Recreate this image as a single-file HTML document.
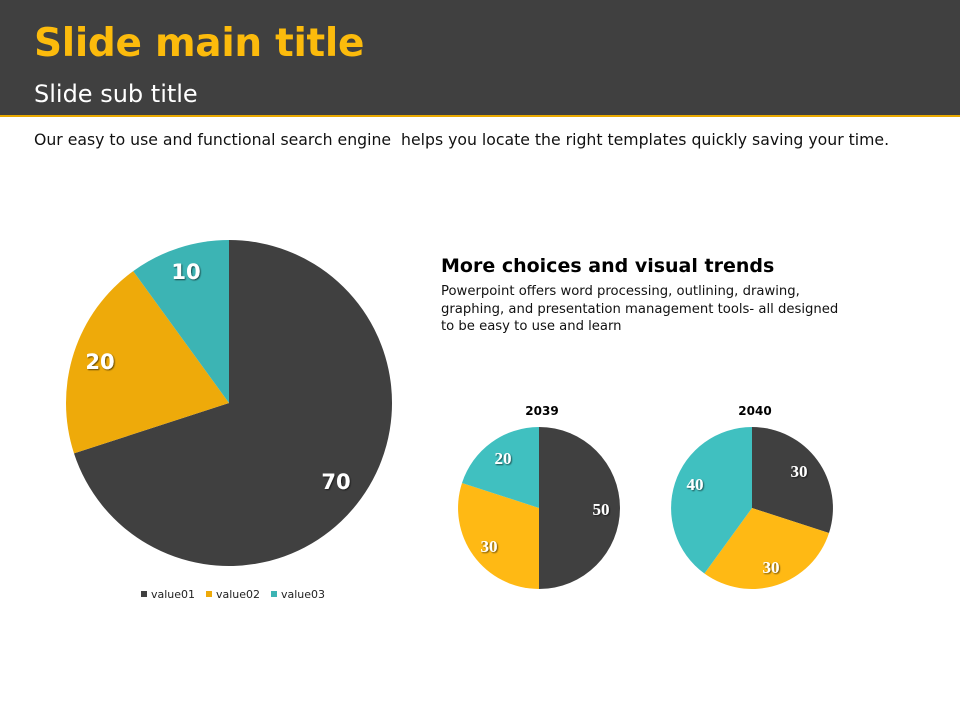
<!DOCTYPE html>
<html><head><meta charset="utf-8"><style>
body{margin:0;width:960px;height:720px;background:#fff;position:relative;overflow:hidden;font-family:"DejaVu Sans","Liberation Sans",sans-serif}
.hdr{position:absolute;left:0;top:0;width:960px;height:115px;background:#404040;border-bottom:2px solid #e8a800}
.t{position:absolute;left:34px;top:21px;font-size:39px;font-weight:bold;color:#fcbb0c;letter-spacing:-0.3px}
.st{position:absolute;left:34px;top:80px;font-size:24px;color:#fff}
.d{position:absolute;left:34px;top:130px;font-size:15.7px;color:#111;white-space:nowrap}
.h2{position:absolute;left:441px;top:255px;font-size:19px;font-weight:bold;color:#000}
.p{position:absolute;left:441px;top:283px;font-size:13.2px;line-height:17.5px;color:#111;width:420px}
</style></head><body>
<div class="hdr"></div>
<div class="t">Slide main title</div>
<div class="st">Slide sub title</div>
<div class="d">Our easy to use and functional search engine&nbsp; helps you locate the right templates quickly saving your time.</div>
<div class="h2">More choices and visual trends</div>
<div class="p">Powerpoint offers word processing, outlining, drawing,<br>graphing, and presentation management tools- all designed<br>to be easy to use and learn</div>
<svg width="960" height="720" style="position:absolute;left:0;top:0">
<defs><filter id="sh"><feDropShadow dx="1" dy="1" stdDeviation="0.8" flood-color="#000" flood-opacity="0.6"/></filter></defs>
<path d="M229,403 L229,240 A163,163 0 1 1 74,453.4 Z" fill="#404040"/>
<path d="M229,403 L74,453.4 A163,163 0 0 1 133.2,271.1 Z" fill="#eeaa0a"/>
<path d="M229,403 L133.2,271.1 A163,163 0 0 1 229,240 Z" fill="#3cb4b4"/>
<g font-family="DejaVu Sans,sans-serif" font-weight="bold" font-size="21" fill="#fff" filter="url(#sh)" text-anchor="middle">
<text x="336" y="489">70</text><text x="100" y="369">20</text><text x="186" y="279">10</text></g>
<g font-size="11" fill="#222" font-family="DejaVu Sans,sans-serif">
<rect x="141" y="591" width="6" height="6" fill="#404040"/><text x="151" y="598">value01</text>
<rect x="206" y="591" width="6" height="6" fill="#eeaa0a"/><text x="216" y="598">value02</text>
<rect x="271" y="591" width="6" height="6" fill="#3cb4b4"/><text x="281" y="598">value03</text></g>
<g font-family="DejaVu Sans,sans-serif" font-weight="bold" font-size="12" fill="#000" text-anchor="middle">
<text x="542" y="415">2039</text><text x="755" y="415">2040</text></g>
<path d="M539,508 L539,427 A81,81 0 0 1 539,589 Z" fill="#404040"/>
<path d="M539,508 L539,589 A81,81 0 0 1 462,483 Z" fill="#ffb914"/>
<path d="M539,508 L462,483 A81,81 0 0 1 539,427 Z" fill="#40c0c0"/>
<path d="M752,508 L752,427 A81,81 0 0 1 829,533 Z" fill="#404040"/>
<path d="M752,508 L829,533 A81,81 0 0 1 704.4,573.5 Z" fill="#ffb914"/>
<path d="M752,508 L704.4,573.5 A81,81 0 0 1 752,427 Z" fill="#40c0c0"/>
<g font-family="Liberation Serif,serif" font-weight="bold" font-size="17" fill="#fff" filter="url(#sh)" text-anchor="middle">
<text x="601" y="515">50</text><text x="489" y="552">30</text><text x="503" y="464">20</text>
<text x="799" y="477">30</text><text x="771" y="573">30</text><text x="695" y="490">40</text></g>
</svg>
</body></html>
